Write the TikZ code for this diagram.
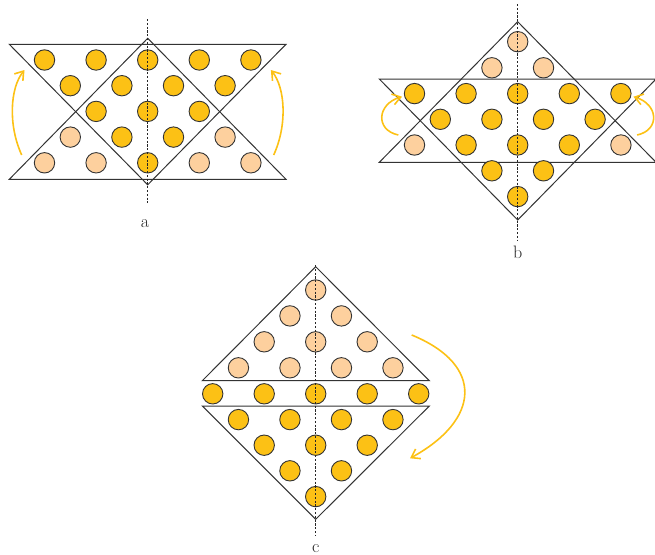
\documentclass[tikz,border=0pt]{standalone}
\usetikzlibrary{arrows.meta}
\definecolor{gold}{HTML}{FCC115}
\definecolor{peach}{HTML}{FDD09E}
\definecolor{edge}{HTML}{333333}
\tikzset{
  dot/.style={circle, draw=edge, line width=0.9pt, minimum size=20.4pt, inner sep=0pt},
  dk/.style={dot, fill=gold},
  lt/.style={dot, fill=peach},
  tri/.style={draw=edge, line width=1pt, line join=miter},
  axis/.style={draw=black!85, line width=0.8pt, dash pattern=on 2.2pt off 1.6pt},
  turn/.style={draw=gold, line width=1.6pt, -{Straight Barb[length=8pt,width=11pt]}},
  lab/.style={font=\fontsize{18}{20}\selectfont, inner sep=0pt, text=black!85, anchor=base}
}
\begin{document}
\begin{tikzpicture}[x=1pt,y=-1pt]
\useasboundingbox (0,0) rectangle (655,554);
% ---------- a ----------
\draw[tri] (9.3,179.3) -- (147.7,38.3) -- (286,179.3) -- cycle;
\draw[tri] (9.3,44.3) -- (147.7,184.8) -- (286,44.3) -- cycle;
\foreach \k/\c [count=\i] in {-4/dk,-2/dk,0/dk,2/dk,4/dk}
  \node[\c] (a1-\i) at ({147.7+\k*25.8},60) {};
\foreach \k/\c [count=\i] in {-3/dk,-1/dk,1/dk,3/dk}
  \node[\c] (a2-\i) at ({147.7+\k*25.8},85.7) {};
\foreach \k/\c [count=\i] in {-2/dk,0/dk,2/dk}
  \node[\c] (a3-\i) at ({147.7+\k*25.8},111.4) {};
\foreach \k/\c [count=\i] in {-3/lt,-1/dk,1/dk,3/lt}
  \node[\c] (a4-\i) at ({147.7+\k*25.8},137.1) {};
\foreach \k/\c [count=\i] in {-4/lt,-2/lt,0/dk,2/lt,4/lt}
  \node[\c] (a5-\i) at ({147.7+\k*25.8},162.8) {};
\coordinate (aT) at (147.7,19);
\coordinate (aB) at (147.7,203);
\draw[axis] (aT) -- (aB);
\coordinate (aL1) at (21.7,155); \coordinate (aL2) at (24.5,70);
\draw[turn] (aL1) .. controls (8,125) and (10,88) .. (aL2);
\coordinate (aR1) at (273.7,155); \coordinate (aR2) at (270.9,70);
\draw[turn] (aR1) .. controls (287.4,125) and (285.4,88) .. (aR2);
\node[lab] (la) at (145,227) {a};
% ---------- b ----------
\draw[tri] (379.3,162.3) -- (517.7,21.7) -- (656.1,162.3) -- cycle;
\draw[tri] (379.3,79) -- (517.7,220) -- (656.1,79) -- cycle;
\foreach \k/\c [count=\i] in {0/lt}
  \node[\c] (b1-\i) at ({517.7+\k*25.8},41.7) {};
\foreach \k/\c [count=\i] in {-1/lt,1/lt}
  \node[\c] (b2-\i) at ({517.7+\k*25.8},67.8) {};
\foreach \k/\c [count=\i] in {-4/dk,-2/dk,0/dk,2/dk,4/dk}
  \node[\c] (b3-\i) at ({517.7+\k*25.8},93.6) {};
\foreach \k/\c [count=\i] in {-3/dk,-1/dk,1/dk,3/dk}
  \node[\c] (b4-\i) at ({517.7+\k*25.8},119.3) {};
\foreach \k/\c [count=\i] in {-4/lt,-2/dk,0/dk,2/dk,4/lt}
  \node[\c] (b5-\i) at ({517.7+\k*25.8},145) {};
\foreach \k/\c [count=\i] in {-1/dk,1/dk}
  \node[\c] (b6-\i) at ({517.7+\k*25.8},170.8) {};
\foreach \k/\c [count=\i] in {0/dk}
  \node[\c] (b7-\i) at ({517.7+\k*25.8},196.6) {};
\coordinate (bT) at (517.7,4);
\coordinate (bB) at (517.7,240);
\draw[axis] (bT) -- (bB);
\coordinate (bL1) at (398.3,135); \coordinate (bL2) at (402,96.7);
\draw[turn] (bL1) .. controls (375,130) and (377,104) .. (bL2);
\coordinate (bR1) at (637.1,135); \coordinate (bR2) at (633.4,96.7);
\draw[turn] (bR1) .. controls (660.4,130) and (658.4,104) .. (bR2);
\node[lab] (lb) at (517.7,258) {b};
% ---------- c ----------
\draw[tri] (202.3,380.7) -- (315.7,266.7) -- (429.3,380.7) -- cycle;
\draw[tri] (202.3,406) -- (315.7,519.3) -- (429.3,406) -- cycle;
\foreach \k/\c [count=\i] in {0/lt}
  \node[\c] (c1-\i) at ({315.7+\k*25.75},290) {};
\foreach \k/\c [count=\i] in {-1/lt,1/lt}
  \node[\c] (c2-\i) at ({315.7+\k*25.75},315.9) {};
\foreach \k/\c [count=\i] in {-2/lt,0/lt,2/lt}
  \node[\c] (c3-\i) at ({315.7+\k*25.75},341.8) {};
\foreach \k/\c [count=\i] in {-3/lt,-1/lt,1/lt,3/lt}
  \node[\c] (c4-\i) at ({315.7+\k*25.75},367.8) {};
\foreach \k/\c [count=\i] in {-4/dk,-2/dk,0/dk,2/dk,4/dk}
  \node[\c] (c5-\i) at ({315.7+\k*25.75},393.8) {};
\foreach \k/\c [count=\i] in {-3/dk,-1/dk,1/dk,3/dk}
  \node[\c] (c6-\i) at ({315.7+\k*25.75},419.6) {};
\foreach \k/\c [count=\i] in {-2/dk,0/dk,2/dk}
  \node[\c] (c7-\i) at ({315.7+\k*25.75},445.2) {};
\foreach \k/\c [count=\i] in {-1/dk,1/dk}
  \node[\c] (c8-\i) at ({315.7+\k*25.75},470.8) {};
\foreach \k/\c [count=\i] in {0/dk}
  \node[\c] (c9-\i) at ({315.7+\k*25.75},496.6) {};
\coordinate (cT) at (315.7,265);
\coordinate (cB) at (315.7,536);
\draw[axis] (cT) -- (cB);
\coordinate (cA1) at (411.7,335); \coordinate (cA2) at (410,458.3);
\draw[turn] (cA1) .. controls (485,365) and (480,420) .. (cA2);
\node[lab] (lc) at (315.7,552) {c};
\end{tikzpicture}
\end{document}
